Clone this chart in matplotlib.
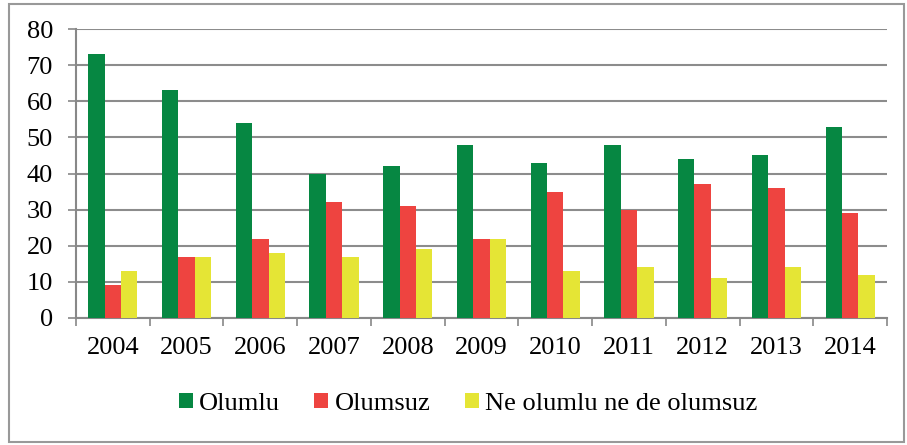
import matplotlib
matplotlib.use("Agg")
import matplotlib.pyplot as plt
from matplotlib.patches import Rectangle
import numpy as np

years = ["2004", "2005", "2006", "2007", "2008", "2009", "2010", "2011", "2012", "2013", "2014"]
olumlu = [73, 63, 54, 40, 42, 48, 43, 48, 44, 45, 53]
olumsuz = [9, 17, 22, 32, 31, 22, 35, 30, 37, 36, 29]
notr = [13, 17, 18, 17, 19, 22, 13, 14, 11, 14, 12]
series_names = ["Olumlu", "Olumsuz", "Ne olumlu ne de olumsuz"]
colors = ["#068742", "#EE4440", "#E5E535"]

plt.rcParams['font.family'] = ['Liberation Serif', 'DejaVu Serif']
FS = 19

fig = plt.figure(figsize=(9.07, 4.45), dpi=100)
ax = fig.add_axes([76/907, 1 - 318/445, (887-76)/907, (318-29)/445])

x = np.arange(len(years))
w = 0.222
for i, (vals, c, name) in enumerate(zip([olumlu, olumsuz, notr], colors, series_names)):
    ax.bar(x + (i - 1) * w, vals, width=w, color=c, label=name, zorder=3)

ax.set_xlim(-0.5, len(years) - 0.5)
ax.set_ylim(0, 80)
ax.set_yticks(range(0, 81, 10))
ax.tick_params(axis='y', labelsize=FS, length=5.5, width=1.2, color='#888888', pad=11)
ax.yaxis.grid(True, color='#8c8c8c', linewidth=1.5, zorder=0)
ax.set_axisbelow(True)

ax.set_xticks(x)
ax.set_xticklabels(years, fontsize=FS)
ax.tick_params(axis='x', which='major', length=0, pad=14)
ax.set_xticks(np.arange(-0.5, len(years)), minor=True)
ax.tick_params(axis='x', which='minor', length=5.5, width=1.2, color='#888888')

for s in ['top', 'right']:
    ax.spines[s].set_visible(False)
for s in ['left', 'bottom']:
    ax.spines[s].set_color('#888888')
    ax.spines[s].set_linewidth(1.5)

leg = fig.legend(loc='center', bbox_to_anchor=(468/907, 1 - 404/445), ncol=3, frameon=False,
                 fontsize=FS, handlelength=0.53, handleheight=0.53, handletextpad=0.23,
                 columnspacing=1.3, borderpad=0, borderaxespad=0)

fig.patches.append(Rectangle((9/907, 3/445), 1 - 12/907, 1 - 7/445, transform=fig.transFigure,
                             fill=False, edgecolor='#999999', linewidth=1.5))

fig.savefig("out.png", dpi=100)
